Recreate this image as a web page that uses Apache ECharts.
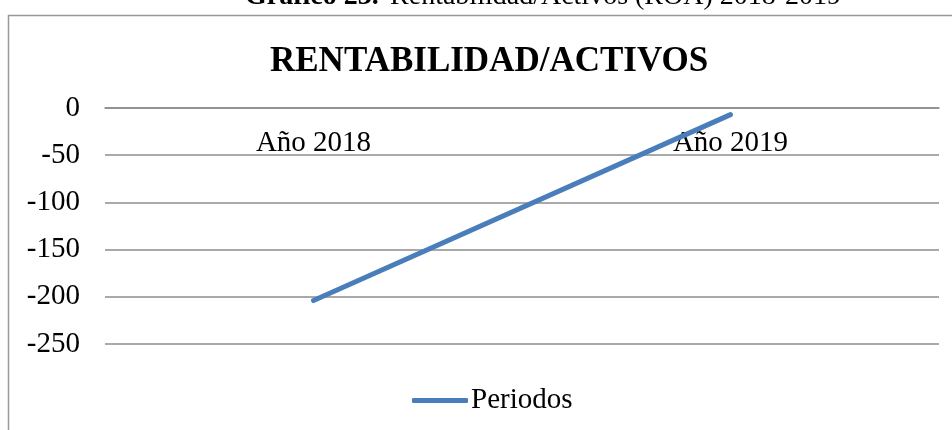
<!DOCTYPE html>
<html>
<head>
<meta charset="utf-8">
<script src="https://cdn.jsdelivr.net/npm/echarts@6/dist/echarts.min.js"></script>
<style>
  html, body { margin: 0; padding: 0; background: #fff; }
  #roaChart { width: 952px; height: 430px; }
</style>
</head>
<body>
<div id="roaChart"></div>
<script>
// datos
const periodos = ['Año 2018', 'Año 2019']
const rentabilidad = [-204, -7]
const yTicks = { min: -250, max: 0, interval: 50 }

const serif = '"Liberation Serif", "DejaVu Serif", serif'
const gridColor = '#8c8c8c'

let myChart = echarts.init(document.getElementById('roaChart'))
let options = {
  animation: false,
  textStyle: { fontFamily: serif },
  graphic: [
    {
      // marco del grafico
      type: 'rect',
      shape: { x: 8.5, y: 15.5, width: 960, height: 440 },
      style: { fill: 'none', stroke: '#999', lineWidth: 1.5 },
      silent: true
    },
    {
      // leyenda del documento (cortada arriba)
      type: 'text',
      x: 245,
      y: 11,
      style: {
        text: '{b|Gráfico 23.-}{n|Rentabilidad/Activos (ROA) 2018-2019}',
        verticalAlign: 'bottom',
        rich: {
          b: { fontWeight: 'bold', fontSize: 28, lineHeight: 28, fontFamily: serif, fill: '#000' },
          n: { fontSize: 28, lineHeight: 28, fontFamily: serif, fill: '#000', padding: [0, 0, 0, 2] }
        }
      }
    }
  ],
  title: {
    text: 'RENTABILIDAD/ACTIVOS',
    left: 265,
    top: 39,
    textStyle: {
      fontSize: 35,
      fontWeight: 'bold',
      fontFamily: serif,
      color: '#000'
    }
  },
  legend: {
    data: ['Periodos'],
    left: 407,
    top: 381,
    itemWidth: 56,
    itemHeight: 5,
    itemGap: 10,
    icon: 'roundRect',
    textStyle: { fontSize: 29, fontFamily: serif, color: '#000', padding: [0, 0, 0, -2] }
  },
  grid: {
    left: 105,
    right: 13,
    top: 108,
    bottom: 86
  },
  xAxis: {
    type: 'category',
    position: 'top',
    data: periodos,
    boundaryGap: true,
    axisLine: { lineStyle: { color: gridColor, width: 1.5 } },
    axisTick: { show: false },
    axisLabel: { inside: true, fontSize: 29, fontFamily: serif, color: '#000', margin: 21 }
  },
  yAxis: {
    type: 'value',
    min: yTicks.min,
    max: yTicks.max,
    interval: yTicks.interval,
    axisLine: { show: false },
    axisTick: { show: false },
    axisLabel: { fontSize: 29, fontFamily: serif, color: '#000', margin: 25 },
    splitLine: { lineStyle: { color: gridColor, width: 1.5 } }
  },
  series: [
    {
      name: 'Periodos',
      type: 'line',
      data: rentabilidad,
      showSymbol: false,
      symbol: 'none',
      lineStyle: { color: '#4a7ebb', width: 5, cap: 'round' },
      itemStyle: { color: '#4a7ebb' }
    }
  ]
}
myChart.setOption(options)
</script>
</body>
</html>
